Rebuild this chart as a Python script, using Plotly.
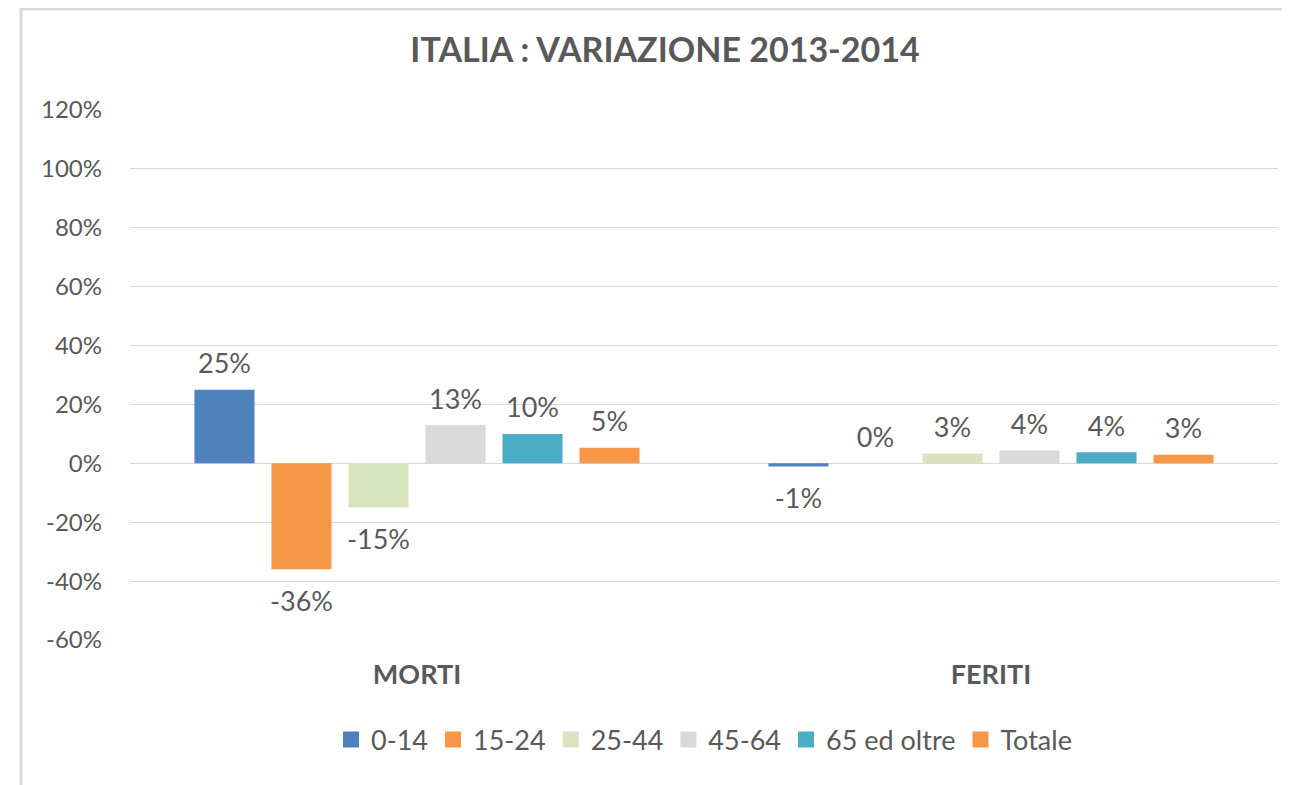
import plotly.graph_objects as go

categories = ["MORTI", "FERITI"]
series_names = ["0-14", "15-24", "25-44", "45-64", "65 ed oltre", "Totale"]
values_0_14 = [0.25, -0.011]
values_15_24 = [-0.36, 0.0]
values_25_44 = [-0.15, 0.033]
values_45_64 = [0.13, 0.044]
values_65 = [0.10, 0.038]
values_totale = [0.053, 0.029]
series_values = [values_0_14, values_15_24, values_25_44, values_45_64, values_65, values_totale]
colors = ["#4f81bd", "#f79646", "#d7e4bd", "#d9d9d9", "#4bacc6", "#f79646"]
y_ticks = [-0.6, -0.4, -0.2, 0, 0.2, 0.4, 0.6, 0.8, 1.0, 1.2]
y_tick_labels = ["-60%", "-40%", "-20%", "0%", "20%", "40%", "60%", "80%", "100%", "120%"]

FONT = "Lato"
GRAY = "#595959"

fig = go.Figure()
for name, vals, col in zip(series_names, series_values, colors):
    fig.add_trace(go.Bar(x=categories, y=vals, name=name, marker=dict(color=col, line=dict(width=0)),
                         hoverinfo="skip", showlegend=False, legendgroup=name))
for name, vals, col in zip(series_names, series_values, colors):
    fig.add_trace(go.Scatter(
        x=categories, y=vals, mode="markers+text",
        text=[f"{round(v*100):.0f}%" for v in vals],
        textposition=["bottom center" if v < 0 else "top center" for v in vals],
        textfont=dict(family=FONT, size=27, color=GRAY),
        marker=dict(size=[32 if v < 0 else 14 for v in vals], color="rgba(0,0,0,0)",
                    line=dict(width=0)),
        showlegend=False, hoverinfo="skip", cliponaxis=False))
# legend entries (square swatches) on a hidden overlay axis
for name, col in zip(series_names, colors):
    fig.add_trace(go.Scatter(x=[None], y=[None], mode="markers", name=name, legendgroup=name,
                             xaxis="x2", yaxis="y2",
                             marker=dict(symbol="square", size=16, color=col, line=dict(width=0)),
                             hoverinfo="skip"))

W, H = 1282, 777
pl, pr, pt, pb = 122, 12, 102, 145
pw, ph = W - pl - pr, H - pt - pb

fig.update_layout(
    width=W, height=H,
    margin=dict(l=pl, r=pr, t=pt, b=pb),
    paper_bgcolor="white", plot_bgcolor="white",
    barmode="group", bargap=0.195, bargroupgap=0.22,
    scattermode="group", scattergap=0.195,
    title=dict(text="<b>ITALIA : VARIAZIONE 2013-2014</b>", x=657 / W, xanchor="center",
               y=1 - 42 / H, yanchor="middle", font=dict(family=FONT, size=34, color=GRAY)),
    font=dict(family=FONT, color=GRAY),
    xaxis=dict(showgrid=False, showline=False, ticks="", ticklabelstandoff=16,
               tickfont=dict(family=FONT, size=27, color=GRAY),
               tickvals=categories, ticktext=[f"<b>{c}</b>" for c in categories]),
    yaxis=dict(range=[-0.6, 1.2], tickvals=y_ticks, ticktext=y_tick_labels,
               showgrid=True, gridcolor="#d9d9d9", gridwidth=1, zeroline=True, zerolinecolor="#d9d9d9",
               zerolinewidth=1, showline=False, ticklabelstandoff=27,
               tickfont=dict(family=FONT, size=24, color=GRAY)),
    xaxis2=dict(overlaying="x", visible=False),
    yaxis2=dict(overlaying="y", visible=False),
    legend=dict(orientation="h", x=0.5, xanchor="center", y=-100 / ph, yanchor="middle",
                font=dict(family=FONT, size=27, color=GRAY), itemwidth=30, traceorder="normal"),
    showlegend=True,
)

fig.add_shape(type="rect", xref="paper", yref="paper",
              x0=(13 - pl) / pw, x1=(W + 20 - pl) / pw, y0=-(H + 20 - pt - ph) / ph, y1=1 + (pt - 1) / ph,
              line=dict(color="#d9d9d9", width=3), fillcolor="rgba(0,0,0,0)", layer="below")

fig.write_html("out.html")
